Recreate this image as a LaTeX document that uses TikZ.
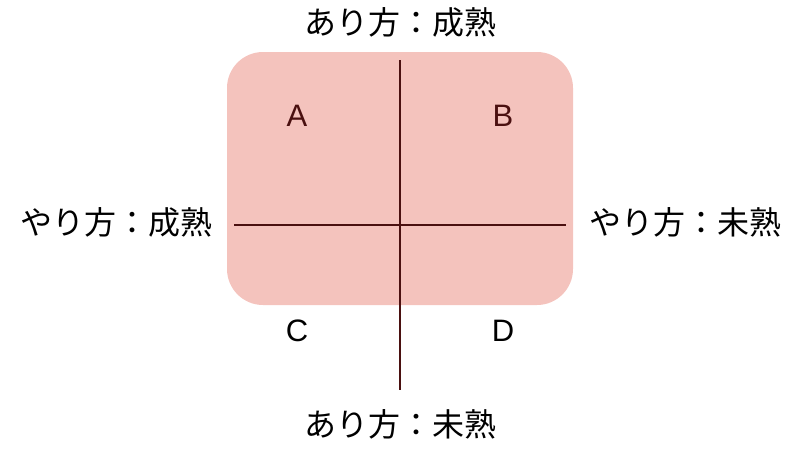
\documentclass[tikz,border=0pt]{standalone}
\usepackage{fontspec}
\setmainfont{Liberation Sans}
\newfontfamily\jpfont{Noto Sans CJK JP}
\definecolor{boxfill}{HTML}{F4C3BD}
\definecolor{axisline}{HTML}{4A1010}
\definecolor{darklbl}{HTML}{4A1010}
\begin{document}
\begin{tikzpicture}[x=1pt,y=-1pt,
  jp/.style={font=\jpfont\fontsize{32}{34}\selectfont, text=black, inner sep=0pt},
  quad/.style={font=\fontsize{31}{33}\selectfont, inner sep=0pt},
  axis/.style={draw=axisline, line width=2pt}]
\useasboundingbox (0,0) rectangle (800,450);
\node[draw=none, fill=boxfill, rounded corners=36pt, minimum width=346pt, minimum height=253pt] (box) at (400,178.5) {};
\coordinate (vt) at (400,60);
\coordinate (vb) at (400,390);
\coordinate (hl) at (234,225);
\coordinate (hr) at (566,225);
\draw[axis] (vt) -- (vb);
\draw[axis] (hl) -- (hr);
\node[quad, text=darklbl] (A) at (297,116) {A};
\node[quad, text=darklbl] (B) at (503,116) {B};
\node[quad, text=black] (C) at (297,331) {C};
\node[quad, text=black] (D) at (503,331) {D};
\node[jp] (top) at (400,22) {あり方：成熟};
\node[jp] (bot) at (400,424) {あり方：未熟};
\node[jp] (left) at (116,222) {やり方：成熟};
\node[jp] (right) at (685,222) {やり方：未熟};
\end{tikzpicture}
\end{document}
